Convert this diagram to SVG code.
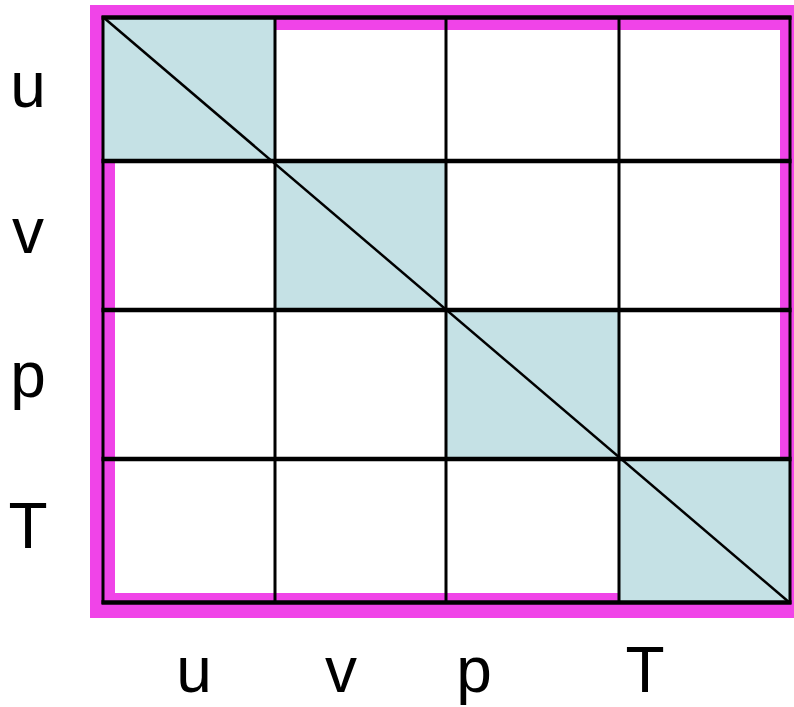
<svg xmlns="http://www.w3.org/2000/svg" width="794" height="707" viewBox="0 0 794 707">
<style>
.frame{fill:none;stroke:#f044e8;stroke-width:25}
.cell{fill:#c5e1e5;stroke:none}
.h{stroke:#000;stroke-width:4.5}
.v{stroke:#000;stroke-width:3}
.diag{stroke:#000;stroke-width:2.5}
.lbl{font-family:"Liberation Sans",Arial,sans-serif;font-size:64px;fill:#000;text-anchor:middle}
</style>
<rect width="794" height="707" fill="#fff"/>
<g id="frame"><rect class="frame" x="102.5" y="17.5" width="690" height="588"/></g>
<g id="cells">
<rect id="cell-uu" class="cell" x="103" y="17" width="172" height="144"/>
<rect id="cell-vv" class="cell" x="275" y="161" width="171" height="149"/>
<rect id="cell-pp" class="cell" x="446" y="310" width="173" height="149"/>
<rect id="cell-TT" class="cell" x="619" y="459" width="171" height="143"/>
</g>
<g id="grid">
<line class="h" x1="101.5" y1="17.5" x2="791.5" y2="17.5"/>
<line class="h" x1="101.5" y1="161" x2="791.5" y2="161"/>
<line class="h" x1="101.5" y1="310" x2="791.5" y2="310"/>
<line class="h" x1="101.5" y1="459" x2="791.5" y2="459"/>
<line class="h" x1="101.5" y1="602.5" x2="791.5" y2="602.5"/>
<line class="v" x1="103" y1="16" x2="103" y2="604"/>
<line class="v" x1="275" y1="16" x2="275" y2="604"/>
<line class="v" x1="446" y1="16" x2="446" y2="604"/>
<line class="v" x1="619" y1="16" x2="619" y2="604"/>
<line class="v" x1="790" y1="16" x2="790" y2="604"/>
</g>
<g id="connectors">
<line class="diag" x1="103" y1="17" x2="790" y2="603"/>
</g>
<g id="row-labels">
<text class="lbl" x="28" y="107">u</text>
<text class="lbl" x="28" y="253">v</text>
<text class="lbl" x="28" y="397">p</text>
<text class="lbl" x="28" y="548">T</text>
</g>
<g id="col-labels">
<text class="lbl" x="194" y="692">u</text>
<text class="lbl" x="341" y="692">v</text>
<text class="lbl" x="474" y="692">p</text>
<text class="lbl" x="645" y="692">T</text>
</g>
</svg>
